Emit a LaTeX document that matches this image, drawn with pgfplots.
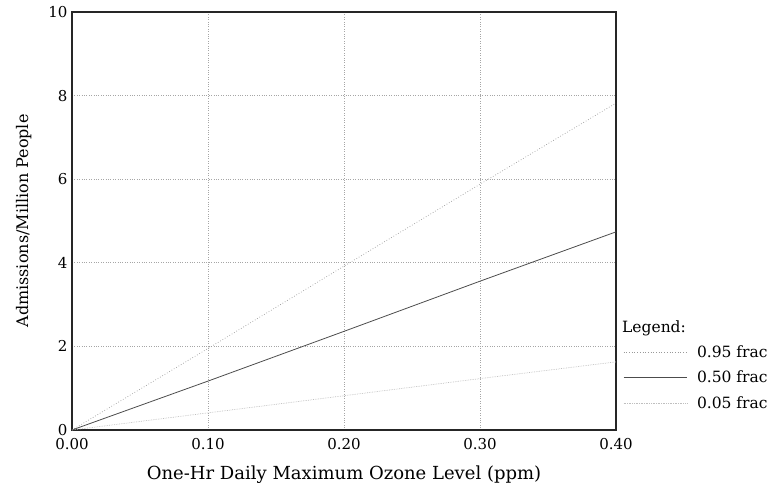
\documentclass[border=0pt]{standalone}
\usepackage{pgfplots}
\pgfplotsset{compat=1.18}
\usepackage{fontspec}
\setmainfont{DejaVu Serif}
\begin{document}
\begin{tikzpicture}
\useasboundingbox (-72pt,-56pt) rectangle (698pt,430pt);
\begin{axis}[
  scale only axis,
  width=544pt, height=418pt,
  xmin=0, xmax=0.4, ymin=0, ymax=10,
  xtick={0,0.1,0.2,0.3,0.4},
  ytick={0,2,4,6,8,10},
  xticklabels={0.00,0.10,0.20,0.30,0.40},
  major tick length=0pt,
  /pgf/number format/assume math mode=true,
  tick label style={font=\fontsize{15}{17}\selectfont},
  xticklabel style={yshift=-5pt},
  yticklabel style={xshift=-1pt},
  grid=major,
  major grid style={dotted, gray!70, line width=0.6pt},
  axis line style={line width=1.4pt, black!85},
  xlabel={One-Hr Daily Maximum Ozone Level (ppm)},
  ylabel={Admissions/Million People},
  xlabel style={font=\fontsize{18}{20}\selectfont, yshift=-9pt},
  ylabel style={font=\fontsize{16}{18}\selectfont, yshift=10pt},
  legend style={at={(rel axis cs:1.013,0.208)}, anchor=north west, draw=none, fill=none,
    font=\fontsize{15.5}{17}\selectfont, row sep=8.5pt, inner sep=0pt},
  legend cell align=left,
  legend image code/.code={\draw[#1] (0pt,0pt) -- (63pt,0pt);},
  /tikz/every odd column/.append style={column sep=8pt},
  clip=false,
]
\addplot[gray!80, line width=0.7pt, dotted] coordinates {(0,0) (0.1,1.95) (0.2,3.92) (0.3,5.88) (0.4,7.82)};
\addlegendentry{0.95 frac}
\addplot[black!70, line width=0.8pt] coordinates {(0,0) (0.1,1.17) (0.2,2.36) (0.3,3.56) (0.4,4.74)};
\addlegendentry{0.50 frac}
\addplot[gray!50, line width=0.7pt, densely dotted] coordinates {(0,0) (0.1,0.41) (0.2,0.82) (0.3,1.23) (0.4,1.63)};
\addlegendentry{0.05 frac}
\node[anchor=base west, font=\fontsize{15.5}{17}\selectfont, inner sep=0pt] at (rel axis cs:1.011,0.234) {Legend:};
\end{axis}
\end{tikzpicture}
\end{document}
